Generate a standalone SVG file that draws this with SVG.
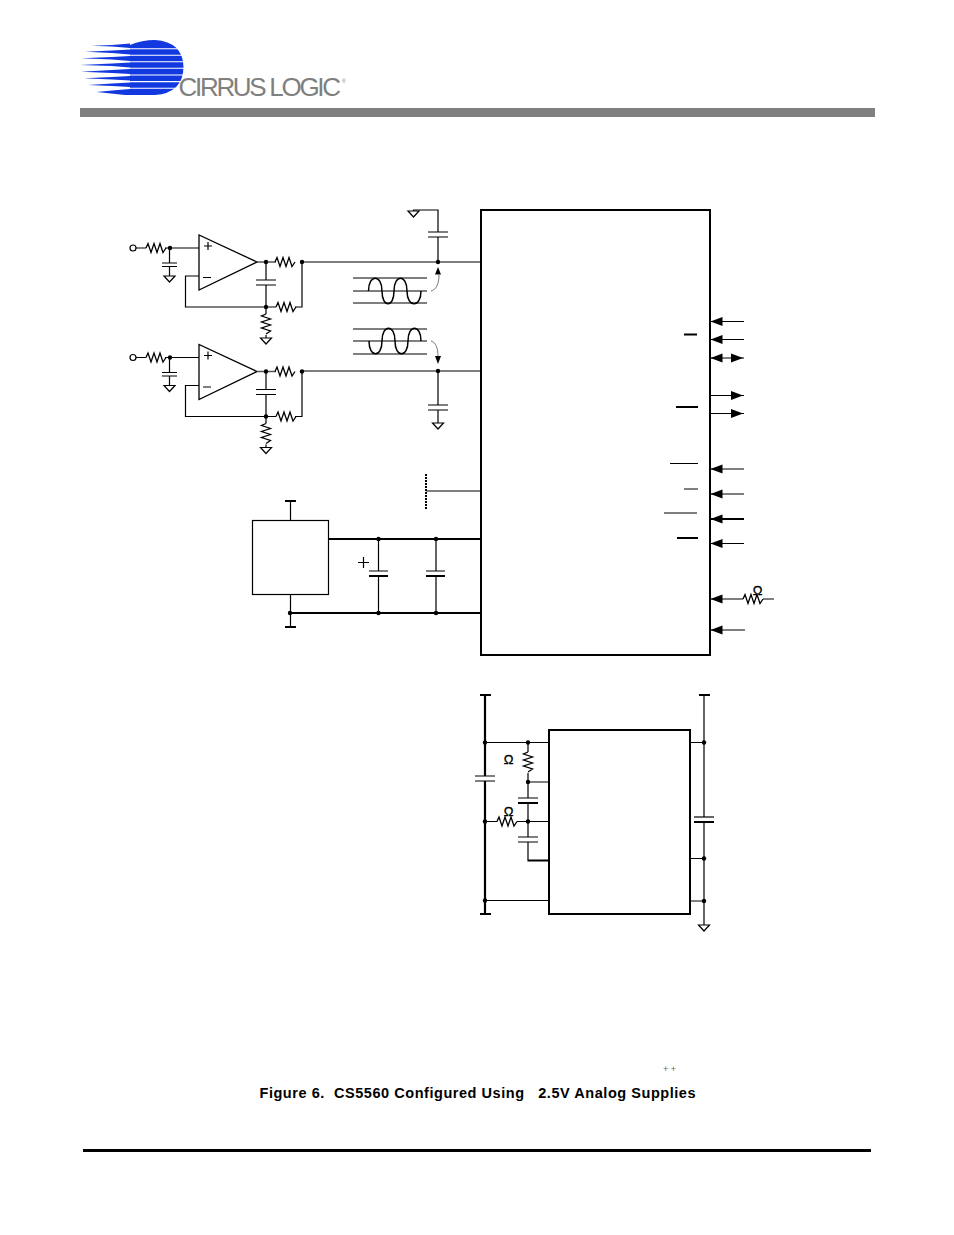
<svg xmlns="http://www.w3.org/2000/svg" width="954" height="1235" viewBox="0 0 954 1235">
<style>
.w{fill:none;stroke:#000;stroke-width:1.200}
.t{fill:none;stroke:#000;stroke-width:2.200}
.b{fill:#fff;stroke:#000;stroke-width:1.300}
.d{fill:#000}
.g{fill:#fff;stroke:#000;stroke-width:1.200}
.o{font:13px "Liberation Sans",Arial,sans-serif;fill:#000;text-anchor:middle;stroke:#000;stroke-width:.3}
.s{fill:#1238e0}
</style>
<defs>
<path id="r" d="M0 0l2-4.500 3 9 3-9 3 9 3-9 3 9 3-4.500" fill="none" stroke="#000" stroke-width="1.300"/>
<path id="v" d="M0 0l-4.500 2 9 3-9 3 9 3-9 3 9 3-4.500 3" fill="none" stroke="#000" stroke-width="1.300"/>
<path id="gnd" d="M-5.500 0h11l-5.500 6z" fill="#fff" stroke="#000" stroke-width="1.200"/>
<path id="al" d="M0 0l12-4.500v9z" fill="#000"/>
<path id="ar" d="M0 0l-12-4.500v9z" fill="#000"/>
<g id="opamp">
<path d="M199 235V290L257 262Z" class="b"/>
<path d="M204 246h8M208 242v8M203 277.500h8" class="w"/>
<circle cx="133" cy="248" r="3" class="g"/>
<path d="M136 248h10M165 248h34M169.500 248v15M162 263h15M162 266.500h15M169.500 266.500v10" class="w"/>
<use href="#r" x="146" y="248"/>
<circle cx="170" cy="248" r="2.200" class="d"/>
<use href="#gnd" x="169.500" y="276"/>
<path d="M257 262h19" fill="none" stroke="#555" stroke-width="1.500"/>
<use href="#r" x="275" y="262"/>
<path d="M266 262V280M256 280h20M256 285h20M266 285V307M199 276H185.500V307H266" class="w"/>
<path d="M266 307h10M295 307h7V262M266 307v7M266 335v3" class="w"/>
<use href="#r" x="276" y="307"/>
<use href="#v" x="266" y="314"/>
<use href="#gnd" x="266" y="338"/>
<circle cx="266" cy="262" r="2.200" class="d"/>
<circle cx="266" cy="307" r="2.200" class="d"/>
<circle cx="302" cy="262" r="2.200" class="d"/>
</g>
</defs>

<g id="logo">
<path class="s" d="M130 45Q142 40 155 40Q183 42 183.500 67Q183 93 155 95H130Z"/>
<path class="s" d="M91.500 45.700L112 45L130 43.500V48L112 46.500Z"/>
<path class="s" d="M85.500 51.700L112 50.500L130 49.500V54.500L112 53Z"/>
<path class="s" d="M81 58.300L112 57L130 56V61L112 59.500Z"/>
<path class="s" d="M80 65L112 63.500L130 62.500V67.500L112 66Z"/>
<path class="s" d="M81 71.700L112 70L130 69V74L112 73Z"/>
<path class="s" d="M84 78.300L112 77L130 76V80.500L112 79.500Z"/>
<path class="s" d="M88 85L112 83.500L130 82.500V87L112 86Z"/>
<path class="s" d="M96.500 92L112 90.500L130 89V95H125Z"/>
<path d="M129 48.700H184M129 55.200H184M129 61.700H184M129 68.300H184M129 75H184M129 81.600H184M129 88.300H184" stroke="#fff" stroke-width="1.100"/>
<text x="178.500" y="96" font-family="Liberation Sans, Arial, sans-serif" font-size="26" fill="#7f7f7f" letter-spacing="-2.300">CIRRUS LOGIC</text>
<text x="342" y="83" font-family="Liberation Sans, Arial, sans-serif" font-size="5" fill="#7f7f7f">®</text>
</g>
<rect id="header-bar" x="80" y="108" width="795" height="9" fill="#808080"/>
<rect id="footer-bar" x="83" y="1149" width="788" height="3" fill="#000"/>

<g id="opamp-1"><use href="#opamp"/></g>
<g id="opamp-2"><use href="#opamp" y="109.500"/></g>

<g id="adc">
<rect x="481" y="210" width="229" height="445" fill="#fff" stroke="#000" stroke-width="2"/>
<path d="M684 334.500h13M676 407h22M677 538h21" class="t"/>
<path d="M670 463.500h28M684 489h14M664 513h33" class="w"/>
</g>
<g id="regulator">
<rect x="252.500" y="520.500" width="76" height="74" fill="#fff" stroke="#000" stroke-width="1.200"/>
</g>
<g id="driver">
<rect x="549" y="730" width="141" height="184" fill="#fff" stroke="#000" stroke-width="2"/>
</g>

<g id="connectors">
<path d="M302 262H481M302 371H481" class="w"/>
<path d="M413.500 211V210H438V232M428 232h20M428 237h20M438 237V262" class="w"/>
<use href="#gnd" x="413.500" y="211"/>
<circle cx="438" cy="262" r="2.200" class="d"/>
<path d="M438 371V405M428 405h20M428 410h20M438 410V423" class="w"/>
<use href="#gnd" x="438" y="423"/>
<circle cx="438" cy="371" r="2.200" class="d"/>

<path d="M353 278H427M353 291H427M353 303H427M353 329H427M353 341H427M353 354H427" class="w"/>
<path d="M368.500 291C368.500 274 382 274 382 291S394 308 394 291 407 274 407 291 421 308 421 291" fill="none" stroke="#000" stroke-width="1.500"/>
<path d="M369 341C369 358 382 358 382 341S395 324 395 341 408 358 408 341 421 324 421 341" fill="none" stroke="#000" stroke-width="1.500"/>
<path d="M431 291C436 290 439 284 439 275" fill="none" stroke="#777" stroke-width="1"/>
<path d="M431 341C436 342 438 349 438 356" fill="none" stroke="#777" stroke-width="1"/>
<path d="M438 267l3 7.500h-6zM438 364l3-8h-6z" class="d"/>

<path d="M710 321.500H744M710 339.500H744M710 358H744M710 395.500H744M710 413.500H744M710 469H744M710 494H744M710 543.500H744M710 630H745M710 599H743M763 599H774" class="w"/>
<path d="M710 519H744" class="t"/>
<use href="#al" x="710.500" y="321.500"/>
<use href="#al" x="710.500" y="339.500"/>
<use href="#al" x="710.500" y="358"/>
<use href="#ar" x="743" y="358"/>
<use href="#ar" x="743" y="395.500"/>
<use href="#ar" x="743" y="413.500"/>
<use href="#al" x="710.500" y="469"/>
<use href="#al" x="710.500" y="494"/>
<use href="#al" x="710.500" y="519"/>
<use href="#al" x="710.500" y="543.500"/>
<use href="#al" x="710.500" y="599"/>
<use href="#al" x="710.500" y="630"/>
<use href="#r" x="743" y="599"/>
<text class="o" x="757.500" y="594.500">Ω</text>

<path d="M426 474V510" fill="none" stroke="#000" stroke-width="2" stroke-dasharray="2 1"/>
<path d="M426 491H481" class="w"/>
<path d="M290.500 520V501M290.500 595V627" class="w"/>
<path d="M285 501h11M285 627h11M329 539H481M290 613H481" class="t"/>
<path d="M378.500 539V571M378.500 576V613M436 539V571M436 576V613M369 571h19M426 571h19M358 562.500h11M363.500 557v11" class="w"/>
<path d="M369 576h19M426 576h19" class="t"/>
<circle cx="378.500" cy="539" r="2.200" class="d"/>
<circle cx="436" cy="539" r="2.200" class="d"/>
<circle cx="378.500" cy="613" r="2.200" class="d"/>
<circle cx="436" cy="613" r="2.200" class="d"/>
<circle cx="290" cy="613" r="2.200" class="d"/>

<path d="M485 695V776M485 781V914M480 695h11M480 914h11" class="t"/>
<path d="M475 776h20M475 781h20M485 742.500H549M528 742.500V752M528 773V798M528 782H549M518 798h20M528 803V837M485 821.500H497M517 821.500H549M518 837h20M518 842h20M528 842V860M485 900.500H549" class="w"/>
<path d="M518 803h20M527.500 860.500H549" class="t"/>
<use href="#v" x="528" y="752"/>
<use href="#r" x="497" y="821.500"/>
<circle cx="485" cy="742.500" r="2.200" class="d"/>
<circle cx="528" cy="742.500" r="2.200" class="d"/>
<circle cx="528" cy="782" r="2.200" class="d"/>
<circle cx="485" cy="821.500" r="2.200" class="d"/>
<circle cx="528" cy="821.500" r="2.200" class="d"/>
<circle cx="485" cy="900.500" r="2.200" class="d"/>
<text class="o" x="508.500" y="764">Ω</text>
<text class="o" x="508.500" y="816">Ω</text>

<path d="M704 695V817M704 822V925M690 742.500H704M690 858.500H704M690 901H704" class="w"/>
<path d="M699 695h11M694 822h20" class="t"/>
<path d="M694 817h20" class="w"/>
<circle cx="704" cy="742.500" r="2.200" class="d"/>
<circle cx="704" cy="858.500" r="2.200" class="d"/>
<circle cx="704" cy="901" r="2.200" class="d"/>
<use href="#gnd" x="704" y="925"/>
</g>

<g id="caption">
<text x="663" y="1072" font-family="Liberation Sans, Arial, sans-serif" font-size="9" fill="#666" style="white-space:pre">+ +</text>
<text x="259.500" y="1098" font-family="Liberation Sans, Arial, sans-serif" font-size="14.500" font-weight="700" fill="#000" style="white-space:pre" textLength="436" lengthAdjust="spacing">Figure 6.  CS5560 Configured Using   2.5V Analog Supplies</text>
</g>
</svg>
